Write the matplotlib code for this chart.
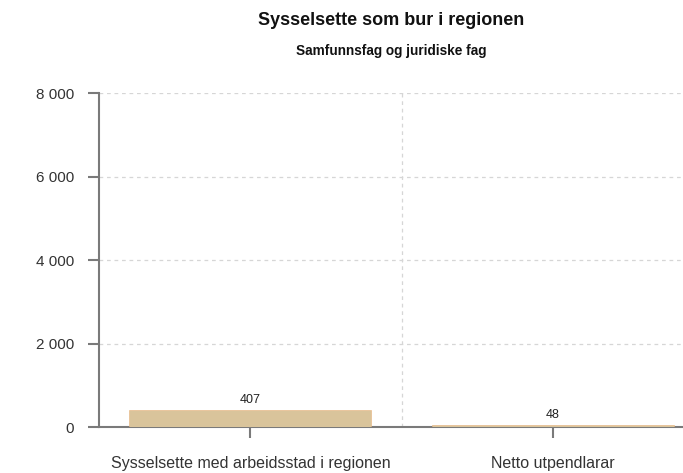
import matplotlib.pyplot as plt
from matplotlib.ticker import FuncFormatter, FixedLocator

plt.rcParams['font.family'] = ['Liberation Sans', 'DejaVu Sans']

# Data
categories = ['Sysselsette med arbeidsstad i regionen', 'Netto utpendlarar']
values = [407, 48]
y_ticks = [0, 2000, 4000, 6000, 8000]

bar_color = '#d9c49b'
axis_color = '#7a7a7a'
grid_color = '#d6d6d6'

fig = plt.figure(figsize=(6.83, 4.73), dpi=100)
ax = fig.add_axes([0.145, 0.097, 0.855, 0.706])

x = list(range(len(categories)))
bars = ax.bar(x, values, width=0.8, color=bar_color, edgecolor='#e8b27a', linewidth=0.4, zorder=3)

# Value labels above each bar
for xi, v in zip(x, values):
    ax.annotate(f'{v}', (xi, v), xytext=(0, 3), textcoords='offset points',
                ha='center', va='bottom', fontsize=9, color='#222222', zorder=4)

ax.set_xlim(-0.5, 1.43)
ax.set_ylim(0, 8000)
ax.set_yticks(y_ticks)
ax.yaxis.set_major_formatter(FuncFormatter(lambda v, p: f'{int(v):,}'.replace(',', ' ')))
ax.set_xticks(x)
ax.set_xticklabels(categories)
ax.xaxis.set_minor_locator(FixedLocator([0.5, 1.5]))

# Grid: horizontal at y ticks, vertical between categories
ax.grid(axis='y', which='major', linestyle=(0, (3, 3)), color=grid_color, linewidth=0.9, zorder=0)
ax.grid(axis='x', which='minor', linestyle=(0, (3, 3)), color=grid_color, linewidth=0.9, zorder=0)
ax.tick_params(axis='x', which='minor', length=0)

for side in ['top', 'right']:
    ax.spines[side].set_visible(False)
for side in ['left', 'bottom']:
    ax.spines[side].set_color(axis_color)
    ax.spines[side].set_linewidth(1.5)

ax.tick_params(axis='both', which='major', color=axis_color, width=1.5, length=8,
               labelcolor='#333333')
ax.tick_params(axis='x', which='major', pad=13, labelsize=11.5)
ax.tick_params(axis='y', which='major', pad=10, labelsize=11)

# Title and subtitle
cx = 0.145 + 0.855 / 2
fig.text(cx, 0.956, 'Sysselsette som bur i regionen', ha='center', va='center',
         fontsize=13, fontweight='bold', color='#111111')
fig.text(cx, 0.892, 'Samfunnsfag og juridiske fag', ha='center', va='center',
         fontsize=9.8, fontweight='bold', color='#111111')

fig.savefig('out.png', dpi=100)
